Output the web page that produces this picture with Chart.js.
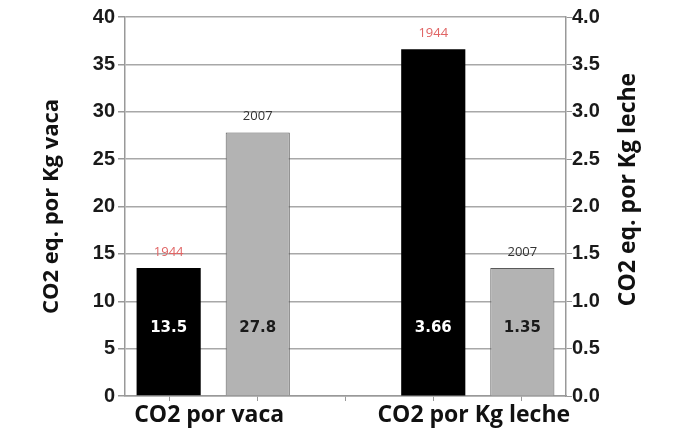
<!DOCTYPE html>
<html>
<head>
<meta charset="utf-8">
<script src="https://cdn.jsdelivr.net/npm/chart.js@4.4.0/dist/chart.umd.min.js"></script>
<style>
  html, body { margin: 0; padding: 0; background: #fff; }
  #wrap { width: 675px; height: 430px; }
</style>
</head>
<body>
<div id="wrap"><canvas id="chart"></canvas></div>
<script>
// Categories and years
const categories = ["CO2 por vaca", "CO2 por Kg leche"];
const years = ["1944", "2007"];

// CO2 eq. per cow (left axis) and per kg of milk (right axis), by year
const perCow = [13.5, 27.8];
const perMilk = [3.66, 1.35];

// Axis ranges
const leftTicks = { min: 0, max: 40, step: 5 };
const rightTicks = { min: 0, max: 4, step: 0.5 };

const barColors = ["#000000", "#b3b3b3"];
const barBorders = ["#000000", "#5a5a5a"];
const yearLabelColors = ["#e06464", "#333333"];
const valueLabelColors = ["#ffffff", "#1a1a1a"];

// The x axis gets 6 slots so the two groups sit where they do in the picture
const slots = ["", categories[0], "", "", categories[1], ""];
const groupSlot = [1, 4];

function slotData(slot, value) {
  return slots.map((s, i) => (i === slot ? value : null));
}

// Build one dataset per (category, year)
const datasets = [];
[perCow, perMilk].forEach((values, ci) => {
  years.forEach((year, yi) => {
    datasets.push({
      label: categories[ci] + " " + year,
      data: slotData(groupSlot[ci], values[yi]),
      yAxisID: ci === 0 ? "y" : "y1",
      backgroundColor: barColors[yi],
      borderColor: barBorders[yi],
      borderWidth: yi === 0 ? 0 : 1,
      skipNull: true,
      categoryPercentage: 2.02,
      barPercentage: 0.72,
      slot: groupSlot[ci],
      yearIndex: yi
    });
  });
});

// Draw the year above each bar and the value inside it
const barLabels = {
  id: "barLabels",
  afterDatasetsDraw(chart) {
    const ctx = chart.ctx;
    const area = chart.chartArea;
    ctx.save();
    ctx.textAlign = "center";
    ctx.textBaseline = "middle";
    chart.data.datasets.forEach((ds, di) => {
      const bar = chart.getDatasetMeta(di).data[ds.slot];
      if (!bar) return;
      const yi = ds.yearIndex;
      ctx.font = "13px 'Open Sans'";
      ctx.fillStyle = yearLabelColors[yi];
      ctx.fillText(years[yi], bar.x, bar.y - 16);
      ctx.font = "bold 15px 'DejaVu Sans'";
      ctx.fillStyle = valueLabelColors[yi];
      ctx.fillText(String(ds.data[ds.slot]), bar.x, area.bottom - 68);
    });
    ctx.restore();
  }
};

// Right axis title reads bottom to top, like the left one
const rightTitle = {
  id: "rightTitle",
  afterDraw(chart) {
    const ctx = chart.ctx;
    const area = chart.chartArea;
    ctx.save();
    ctx.translate(628, (area.top + area.bottom) / 2 - 17);
    ctx.rotate(-Math.PI / 2);
    ctx.textAlign = "center";
    ctx.textBaseline = "middle";
    ctx.font = "bold 23px 'Open Sans'";
    ctx.fillStyle = "#111";
    ctx.fillText("CO2 eq. por Kg leche", 0, 0);
    ctx.restore();
  }
};

const tickFont = { family: "'Liberation Sans'", size: 20, weight: "bold" };

new Chart(document.getElementById("chart"), {
  type: "bar",
  data: { labels: slots, datasets: datasets },
  options: {
    responsive: true,
    maintainAspectRatio: false,
    animation: false,
    layout: { padding: { top: 17, left: 0, right: 0, bottom: 0 } },
    plugins: {
      legend: { display: false },
      tooltip: { enabled: false }
    },
    scales: {
      x: {
        offset: false,
        grid: { drawOnChartArea: false, tickLength: 5, tickColor: "#999" },
        border: { color: "#999", width: 1.5 },
        ticks: {
          font: { family: "'Open Sans'", size: 23, weight: "bold" },
          color: "#111",
          padding: 1,
          labelOffset: -4,
          maxRotation: 0,
          autoSkip: false
        },
        afterFit: (s) => { s.height = 34; }
      },
      y: {
        position: "left",
        min: leftTicks.min,
        max: leftTicks.max,
        grid: { color: "#a8a8a8", lineWidth: 1.5, tickLength: 7, tickColor: "#999" },
        border: { color: "#999", width: 1.5 },
        ticks: {
          stepSize: leftTicks.step,
          font: tickFont,
          color: "#1a1a1a",
          padding: 3
        },
        title: {
          display: true,
          text: "CO2 eq. por Kg vaca",
          font: { family: "'Open Sans'", size: 22, weight: "bold" },
          color: "#111",
          padding: { top: 39, bottom: 0 }
        },
        afterFit: (s) => { s.width = 125; }
      },
      y1: {
        position: "right",
        min: rightTicks.min,
        max: rightTicks.max,
        grid: { drawOnChartArea: false, tickLength: 6, tickColor: "#999" },
        border: { color: "#999", width: 1.5 },
        ticks: {
          stepSize: rightTicks.step,
          font: tickFont,
          color: "#1a1a1a",
          padding: 0,
          callback: (v) => v.toFixed(1)
        },
        afterFit: (s) => { s.width = 109; }
      }
    }
  },
  plugins: [barLabels, rightTitle]
});
</script>
</body>
</html>
